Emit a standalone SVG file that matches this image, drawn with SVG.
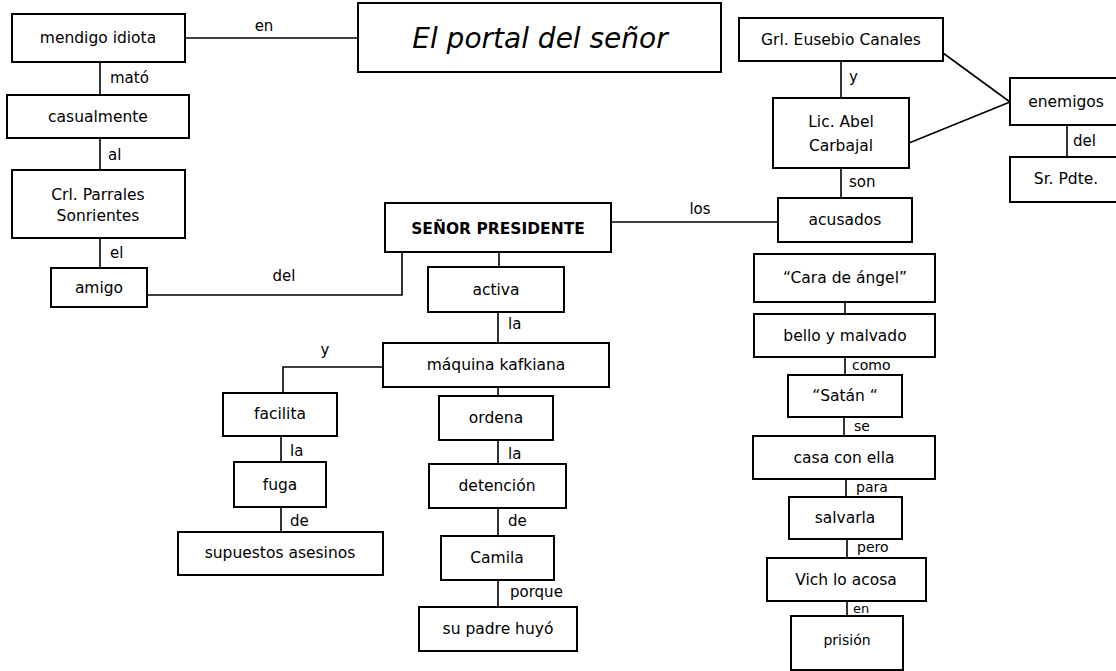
<svg xmlns="http://www.w3.org/2000/svg" width="1116" height="671" viewBox="0 0 1116 671">
<style>
rect{fill:#fff;stroke:#000;stroke-width:2}
.c line,.c polyline{stroke:#000;stroke-width:1.6;fill:none}
text{font-family:"Comic Sans MS","DejaVu Sans",sans-serif;font-size:15.5px;fill:#000}
.n{text-anchor:middle}
.l{font-size:15px}
.s{font-size:14px}
</style>
<rect x="0" y="0" width="1116" height="671" style="fill:#fff;stroke:none"/>
<g class="c" id="connectors">
<line x1="185" y1="38" x2="358" y2="38"/>
<line x1="100" y1="62" x2="100" y2="95"/>
<line x1="100" y1="138" x2="100" y2="170"/>
<line x1="100" y1="238" x2="100" y2="268"/>
<polyline points="147,295 402,295 402,252"/>
<line x1="611" y1="222" x2="777" y2="222"/>
<line x1="499" y1="252" x2="499" y2="267"/>
<line x1="498" y1="312" x2="498" y2="343"/>
<polyline points="383,367 283,367 283,393"/>
<line x1="281" y1="436" x2="281" y2="462"/>
<line x1="281" y1="507" x2="281" y2="532"/>
<line x1="498" y1="387" x2="498" y2="396"/>
<line x1="498" y1="440" x2="498" y2="464"/>
<line x1="498" y1="508" x2="498" y2="536"/>
<line x1="498" y1="580" x2="498" y2="607"/>
<line x1="841" y1="61" x2="841" y2="98"/>
<line x1="943" y1="53" x2="1010" y2="102"/>
<line x1="909" y1="143" x2="1010" y2="102"/>
<line x1="1067" y1="125" x2="1067" y2="157"/>
<line x1="841" y1="168" x2="841" y2="198"/>
<line x1="845" y1="302" x2="845" y2="314"/>
<line x1="845" y1="357" x2="845" y2="375"/>
<line x1="844" y1="417" x2="844" y2="436"/>
<line x1="846" y1="479" x2="846" y2="497"/>
<line x1="847" y1="539" x2="847" y2="558"/>
<line x1="847" y1="601" x2="847" y2="616"/>
</g>
<g id="edge-labels">
<text class="l n" x="264" y="31">en</text>
<text class="l" x="110" y="83">mató</text>
<text class="l" x="108" y="160">al</text>
<text class="l" x="110" y="258">el</text>
<text class="l n" x="284" y="281">del</text>
<text class="l n" x="700" y="214">los</text>
<text class="l" x="508" y="329">la</text>
<text class="l n" x="325" y="355">y</text>
<text class="l" x="290" y="456">la</text>
<text class="l" x="290" y="526">de</text>
<text class="l" x="508" y="459">la</text>
<text class="l" x="508" y="526">de</text>
<text class="l" x="510" y="597">porque</text>
<text class="l" x="849" y="82">y</text>
<text class="l" x="849" y="187">son</text>
<text class="l" x="1073" y="146">del</text>
<text class="s" x="852" y="370">como</text>
<text class="s" x="854" y="431">se</text>
<text class="s" x="856" y="492">para</text>
<text class="s" x="857" y="552">pero</text>
<text class="s" x="853" y="613" style="font-size:13px">en</text>
</g>
<g id="n-mendigo"><rect x="12" y="14" width="173" height="48"/><text class="n" x="98" y="43">mendigo idiota</text></g>
<g id="n-portal"><rect x="358" y="3" width="363" height="69"/><text class="n" x="540" y="48" style="font-size:28px;font-style:italic">El portal del señor</text></g>
<g id="n-casualmente"><rect x="7" y="95" width="182" height="43"/><text class="n" x="98" y="122">casualmente</text></g>
<g id="n-parrales"><rect x="12" y="170" width="173" height="68"/><text class="n" x="98" y="200">Crl. Parrales</text><text class="n" x="98" y="221">Sonrientes</text></g>
<g id="n-amigo"><rect x="51" y="268" width="96" height="39"/><text class="n" x="99" y="293">amigo</text></g>
<g id="n-presidente"><rect x="385" y="203" width="226" height="49"/><text class="n" x="498" y="234" style="font-weight:bold;font-size:15.5px">SEÑOR PRESIDENTE</text></g>
<g id="n-activa"><rect x="428" y="267" width="136" height="45"/><text class="n" x="496" y="295">activa</text></g>
<g id="n-maquina"><rect x="383" y="343" width="226" height="44"/><text class="n" x="496" y="370">máquina kafkiana</text></g>
<g id="n-facilita"><rect x="223" y="393" width="114" height="43"/><text class="n" x="280" y="419">facilita</text></g>
<g id="n-fuga"><rect x="234" y="462" width="92" height="45"/><text class="n" x="280" y="490">fuga</text></g>
<g id="n-asesinos"><rect x="178" y="532" width="205" height="43"/><text class="n" x="280" y="558">supuestos asesinos</text></g>
<g id="n-ordena"><rect x="439" y="396" width="114" height="44"/><text class="n" x="496" y="423">ordena</text></g>
<g id="n-detencion"><rect x="429" y="464" width="137" height="44"/><text class="n" x="497" y="491">detención</text></g>
<g id="n-camila"><rect x="441" y="536" width="113" height="44"/><text class="n" x="497" y="563">Camila</text></g>
<g id="n-padre"><rect x="419" y="607" width="158" height="44"/><text class="n" x="498" y="634">su padre huyó</text></g>
<g id="n-canales"><rect x="739" y="18" width="204" height="43"/><text class="n" x="841" y="45">Grl. Eusebio Canales</text></g>
<g id="n-carbajal"><rect x="773" y="98" width="136" height="70"/><text class="n" x="841" y="127">Lic. Abel</text><text class="n" x="841" y="151">Carbajal</text></g>
<g id="n-enemigos"><rect x="1010" y="78" width="112" height="47"/><text class="n" x="1066" y="107">enemigos</text></g>
<g id="n-pdte"><rect x="1010" y="157" width="112" height="45"/><text class="n" x="1066" y="184">Sr. Pdte.</text></g>
<g id="n-acusados"><rect x="778" y="198" width="134" height="44"/><text class="n" x="845" y="225">acusados</text></g>
<g id="n-cara"><rect x="754" y="254" width="181" height="48"/><text class="n" x="845" y="283">“Cara de ángel”</text></g>
<g id="n-bello"><rect x="754" y="314" width="181" height="43"/><text class="n" x="845" y="341">bello y malvado</text></g>
<g id="n-satan"><rect x="788" y="375" width="114" height="42"/><text class="n" x="845" y="401">“Satán “</text></g>
<g id="n-casa"><rect x="753" y="436" width="182" height="43"/><text class="n" x="844" y="463">casa con ella</text></g>
<g id="n-salvarla"><rect x="789" y="497" width="113" height="42"/><text class="n" x="845" y="523">salvarla</text></g>
<g id="n-vich"><rect x="767" y="558" width="159" height="43"/><text class="n" x="846" y="585">Vich lo acosa</text></g>
<g id="n-prision"><rect x="791" y="616" width="112" height="54"/><text class="n" x="847" y="645" style="font-size:14px">prisión</text></g>
</svg>
